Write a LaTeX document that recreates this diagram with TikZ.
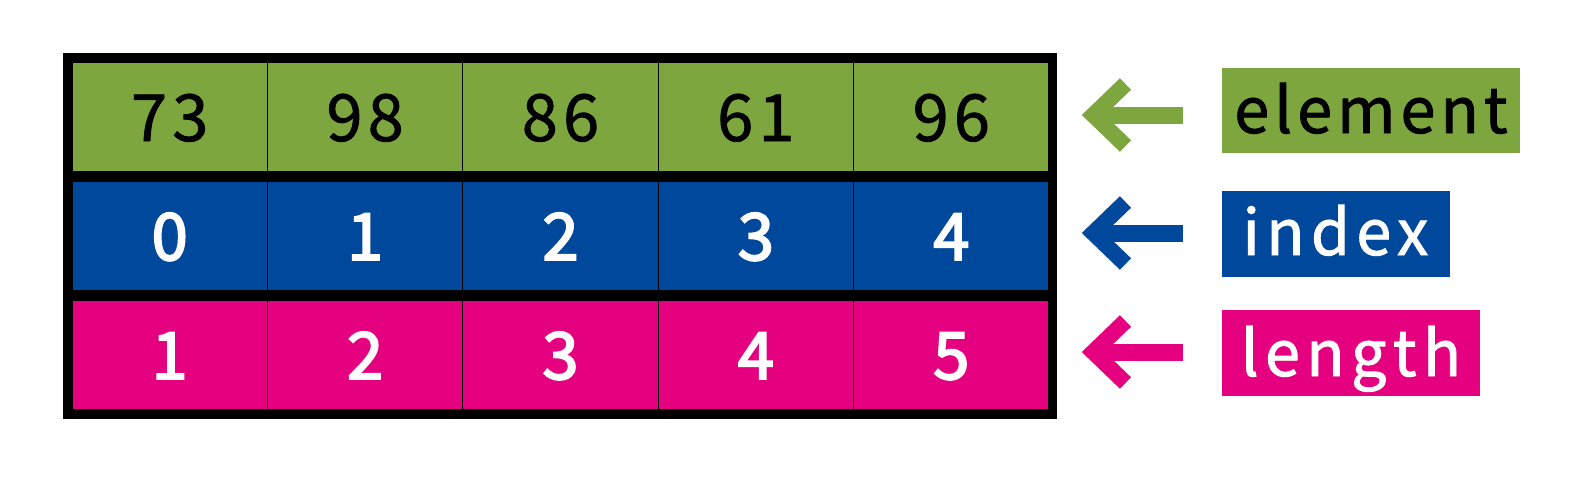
\documentclass[tikz,border=0pt]{standalone}
\usepackage{fontspec}
\usetikzlibrary{calc}
\newfontfamily\digitfont[LetterSpace=8,FakeBold=1.2]{Noto Sans CJK JP}
\newfontfamily\whitedigitfont[LetterSpace=8,FakeBold=3]{Noto Sans CJK JP}
\newfontfamily\labelfont[LetterSpace=10,FakeBold=1.4]{Noto Sans CJK JP}
\newfontfamily\elemfont[LetterSpace=8,FakeBold=1.4]{Noto Sans CJK JP}
\definecolor{rowgreen}{RGB}{126,166,63}
\definecolor{rowblue}{RGB}{0,72,156}
\definecolor{rowpink}{RGB}{228,0,127}
\tikzset{
  cell/.style={draw=black, line width=0.6pt, minimum width=97.7pt, minimum height=55pt,
    inner sep=0pt, text height=24pt, text depth=0pt, font=\digitfont\fontsize{32.5}{36}\selectfont},
  whitecell/.style={cell, text=white, font=\whitedigitfont\fontsize{32.5}{36}\selectfont},
  lbl/.style={inner sep=0pt, draw=none},
  shaft/.style={line width=8.5pt, line cap=butt},
  chev/.style={line width=8pt, line cap=butt, line join=miter},
}
\begin{document}
\begin{tikzpicture}[x=0.5pt,y=-0.5pt]
\useasboundingbox (0,0) rectangle (1569,478);
\node[fill=black, minimum width=497pt, minimum height=183pt, inner sep=0pt] (frame) at (560,236) {};
% rows
\foreach \v [count=\i from 0] in {73,98,86,61,96}
  \node[cell, fill=rowgreen, text=black] (g\i) at ({72+195.4*(\i+0.5)},117) {\v};
\foreach \v [count=\i from 0] in {0,1,2,3,4}
  \node[whitecell, fill=rowblue] (b\i) at ({72+195.4*(\i+0.5)},236) {\v};
\foreach \v [count=\i from 0] in {1,2,3,4,5}
  \node[whitecell, fill=rowpink] (p\i) at ({72+195.4*(\i+0.5)},355) {\v};
% labels
\node[lbl, fill=rowgreen, text=black, minimum width=149pt, minimum height=42.5pt,
  text height=23.5pt, text depth=1pt, font=\elemfont\fontsize{31.5}{36}\selectfont] (le) at (1371,110.5) {element};
\node[lbl, fill=rowblue, text=white, minimum width=114pt, minimum height=43pt,
  text height=23pt, text depth=2pt, font=\labelfont\fontsize{31.5}{36}\selectfont] (li) at (1335.5,234) {index};
\node[lbl, fill=rowpink, text=white, minimum width=129pt, minimum height=43pt,
  text height=24pt, text depth=1pt, font=\labelfont\fontsize{31.5}{36}\selectfont] (ll) at (1351,353) {length};
% arrows
\foreach \lab/\row/\y/\c in {le/g4/115/rowgreen, li/b4/233/rowblue, ll/p4/352/rowpink}{
  \coordinate (t\lab) at (1082,\y);
  \coordinate (s\lab) at (1183,\y);
  \draw[shaft, \c] (s\lab) -- ($(t\lab)+(22,0)$);
  \draw[chev, \c] ($(t\lab)+(43.5,-31)$) -- ($(t\lab)+(11.3,0)$) -- ($(t\lab)+(43.5,31)$);
}
\end{tikzpicture}
\end{document}
